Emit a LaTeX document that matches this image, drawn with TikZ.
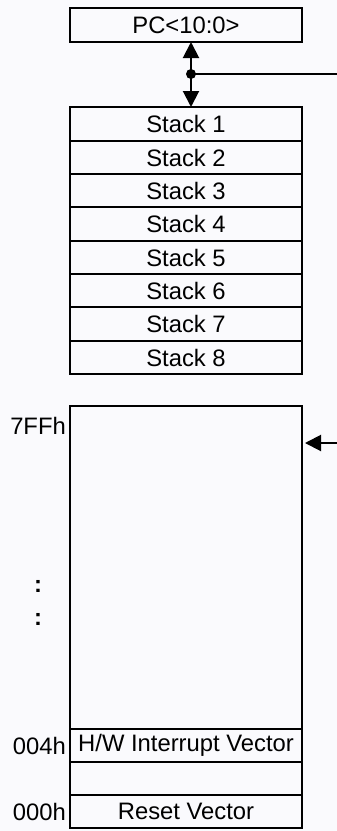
\documentclass[tikz,border=0pt]{standalone}
\usepackage{fontspec}
\setmainfont{Liberation Sans}
\usetikzlibrary{arrows.meta}
\definecolor{bgc}{RGB}{250,250,253}
\begin{document}
\begin{tikzpicture}[x=1pt,y=-1pt,
  cell/.style={draw,line width=2pt,minimum width=232pt,inner sep=0pt,outer sep=0pt,
    font=\fontsize{23.8}{27}\selectfont,anchor=center},
  lbl/.style={font=\fontsize{23.8}{27}\selectfont,inner sep=0pt,anchor=east},
  tip/.style={-{Triangle[length=16pt,width=16pt]}},
  conn/.style={line width=2pt}]
\fill[bgc] (0,0) rectangle (337,831);
\useasboundingbox (0,0) rectangle (337,831);
% PC register
\node[cell,minimum height=34pt] (pc) at (186,25) {PC<10:0>};
% stack
\foreach \i/\t/\b in {1/107/141,2/141/174,3/174/207,4/207/241,5/241/274,6/274/307,7/307/341,8/341/374}{
  \node[cell,minimum height={\b-\t}] (s\i) at (186,{(\t+\b)/2}) {Stack \i};
}
% bus
\coordinate (bus) at (191,74);
\coordinate (busE) at (337,74);
\draw[conn,tip] (bus) -- (pc.south -| bus);
\draw[conn,tip] (bus) -- (s1.north -| bus);
\draw[conn] (bus) -- (busE);
\fill (bus) circle (5pt);
% program memory
\node[cell,minimum height=323pt] (mem) at (186,567.5) {};
\node[cell,minimum height=33pt] (hw) at (186,745.5) {H/W Interrupt Vector};
\node[cell,minimum height=33pt] (blank) at (186,778.5) {};
\node[cell,minimum height=33pt] (reset) at (186,811.5) {Reset Vector};
\coordinate (pin) at (337,443);
\draw[conn,tip,shorten >=3pt] (pin) -- (pin -| mem.east);
% address labels
\node[lbl] (a7ff) at (66,426) {7FFh};
\node[lbl] (a004) at (66,745.5) {004h};
\node[lbl] (a000) at (66,811.5) {000h};
\node[font=\fontsize{23.8}{27}\selectfont\bfseries,inner sep=0pt] (c1) at (38,586) {:};
\node[font=\fontsize{23.8}{27}\selectfont\bfseries,inner sep=0pt] (c2) at (38,619) {:};
\end{tikzpicture}
\end{document}
